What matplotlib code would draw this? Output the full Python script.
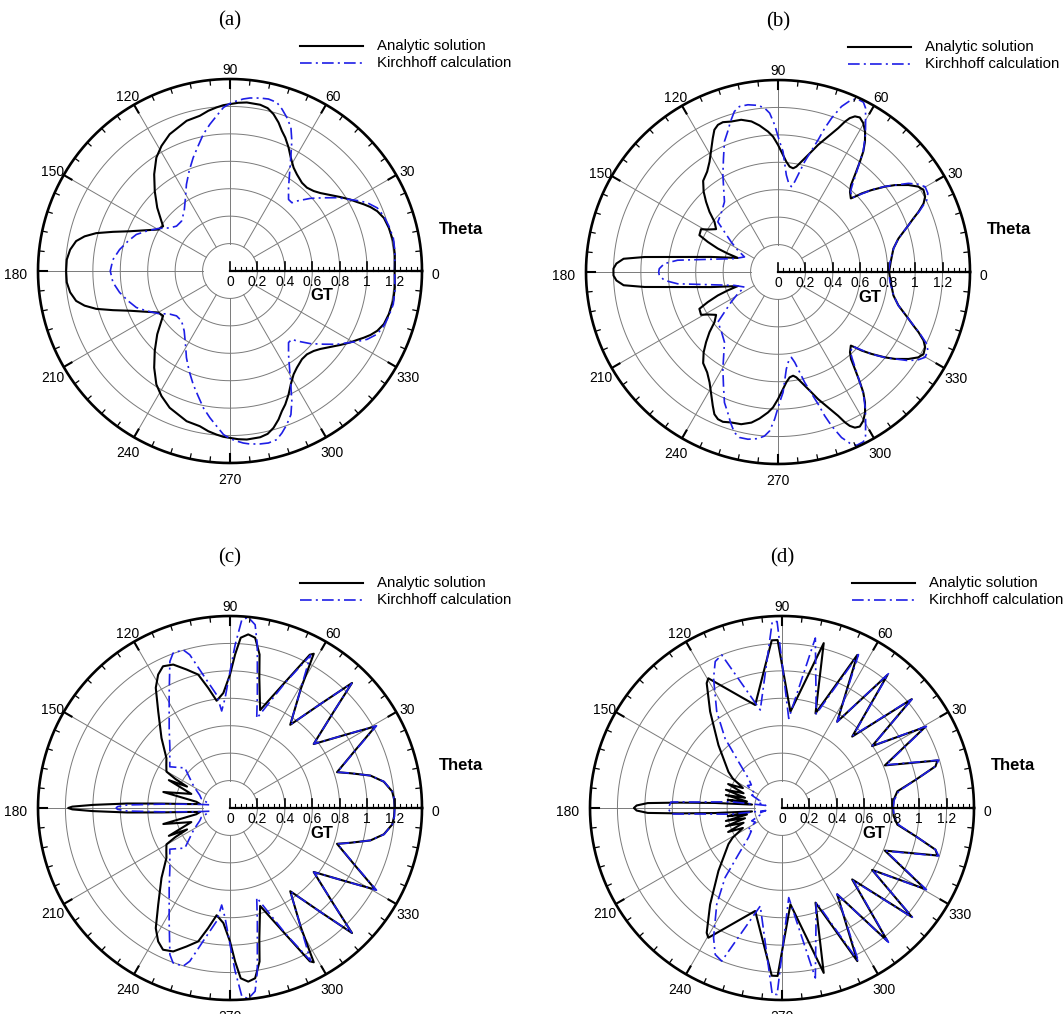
import numpy as np
import matplotlib
matplotlib.use("Agg")
import matplotlib.pyplot as plt

# ---------------------------------------------------------------
# GT versus scattering angle Theta (degrees), upper half 0..180.
# Patterns are symmetric about the 0-180 axis.
# ---------------------------------------------------------------

# (a)
theta_a_analytic = [0, 5.7, 10.3, 15.2, 19, 22.1, 24.5, 26.5, 28.5, 30.7, 33.8, 37.1, 40.8,
                    43.7, 47.3, 50.8, 55.3, 58.4, 61.8, 64.6, 67.5, 69.7, 71.9, 74.5, 77,
                    79.7, 84.3, 87.2, 90, 92.3, 94.7, 97.7, 101, 106.1, 113.8, 118.7, 123,
                    128.1, 133.3, 139, 144, 146.2, 150, 155, 158.4, 161.5, 164.2, 166.6,
                    169, 172.4, 176, 180]
gt_a_analytic = [1.20, 1.208, 1.21, 1.20, 1.187, 1.159, 1.125, 1.09, 1.054, 1.02, 0.969,
                 0.918, 0.87, 0.844, 0.827, 0.83, 0.857, 0.885, 0.938, 0.996, 1.053, 1.09,
                 1.139, 1.187, 1.219, 1.232, 1.235, 1.228, 1.217, 1.21, 1.197, 1.179,
                 1.153, 1.14, 1.09, 1.04, 0.986, 0.896, 0.80, 0.703, 0.618, 0.587, 0.605,
                 0.70, 0.787, 0.90, 1.014, 1.09, 1.143, 1.176, 1.193, 1.195]
theta_a_kirchhoff = [0, 6.8, 11.5, 15.8, 19.6, 23.2, 26.5, 29, 30.7, 34.4, 38, 42.1, 46.3,
                     47.8, 50.7, 54.9, 58.4, 61.8, 64.6, 67, 69.7, 72.2, 74.5, 77.4, 80.1,
                     83.4, 85.6, 88.3, 90, 92.3, 94.9, 97.8, 101, 104.3, 108, 112.2, 116.7,
                     121.3, 127.4, 134.2, 140, 144.4, 149.4, 154.5, 158.7, 163.7, 169,
                     174.5, 180]
gt_a_kirchhoff = [1.20, 1.211, 1.215, 1.204, 1.191, 1.168, 1.117, 1.06, 1.02, 0.946, 0.867,
                  0.79, 0.706, 0.672, 0.674, 0.742, 0.828, 0.938, 1.051, 1.137, 1.194,
                  1.24, 1.276, 1.285, 1.28, 1.27, 1.258, 1.237, 1.222, 1.193, 1.136, 1.08,
                  1.017, 0.941, 0.869, 0.788, 0.707, 0.625, 0.55, 0.507, 0.509, 0.54,
                  0.609, 0.675, 0.733, 0.775, 0.82, 0.858, 0.873]

# (b)
theta_b_analytic = [0, 5.1, 11.5, 15.5, 17.7, 19.7, 21.6, 23.2, 25.2, 27.1, 29.4, 31.3,
                    33.7, 36.6, 38.6, 41.2, 43.2, 44.4, 45.3, 48.1, 50, 51.6, 53.4, 54.7,
                    56.3, 58.2, 60.2, 62.1, 63.7, 65, 66, 67.3, 69.7, 72.5, 75, 78, 80.1,
                    81.7, 83.7, 85.7, 88, 90, 92.1, 94.1, 97.2, 100, 103.6, 107.3, 110.2,
                    112.2, 114.1, 116, 118.7, 121.8, 125.2, 129.4, 132.8, 135.7, 138.7,
                    141.7, 145.3, 148.8, 150.9, 154.9, 156.8, 158.7, 159.9, 160.7, 167.3,
                    171.5, 173.6, 175.1, 177, 178.8, 180]
gt_b_analytic = [0.81, 0.825, 0.859, 0.911, 0.96, 1.01, 1.062, 1.115, 1.173, 1.205, 1.218,
                 1.198, 1.143, 1.063, 0.998, 0.907, 0.837, 0.785, 0.755, 0.786, 0.828,
                 0.903, 1.002, 1.076, 1.143, 1.205, 1.251, 1.275, 1.266, 1.238, 1.20,
                 1.137, 1.053, 0.972, 0.896, 0.823, 0.78, 0.764, 0.773, 0.807, 0.866,
                 0.927, 0.988, 1.027, 1.077, 1.115, 1.142, 1.149, 1.164, 1.159, 1.136,
                 1.085, 1.015, 0.947, 0.896, 0.86, 0.798, 0.733, 0.665, 0.59, 0.549,
                 0.598, 0.642, 0.633, 0.557, 0.471, 0.39, 0.31, 0.50, 0.74, 0.98, 1.13,
                 1.18, 1.20, 1.20]
theta_b_kirchhoff = [0, 5, 11.5, 15.5, 19.7, 23.2, 25.8, 27.7, 30.1, 32, 34.2, 36.6, 38.6,
                     41.2, 43, 45, 48, 49.5, 51.3, 53.4, 55, 57.6, 59.8, 61.9, 63.3, 65.6,
                     67.2, 69, 70.8, 72, 73.1, 74.6, 76.4, 77.8, 79.5, 81.1, 83.1, 85.1,
                     87.6, 89.3, 91.3, 93, 94.7, 96.9, 100.2, 103.1, 105.2, 107.5, 109.7,
                     112.3, 115.6, 119.6, 123, 127.3, 134.2, 140.2, 143.1, 147.3, 151.6,
                     155.8, 162.9, 169.2, 173.3, 175.8, 178.4, 180]
gt_b_kirchhoff = [0.805, 0.82, 0.86, 0.91, 1.01, 1.12, 1.205, 1.234, 1.24, 1.207, 1.15,
                  1.063, 1.0, 0.91, 0.834, 0.766, 0.79, 0.835, 0.905, 1.0, 1.086, 1.19,
                  1.27, 1.355, 1.386, 1.388, 1.355, 1.293, 1.188, 1.103, 1.007, 0.916,
                  0.829, 0.749, 0.67, 0.63, 0.651, 0.71, 0.879, 0.951, 1.073, 1.16, 1.20,
                  1.224, 1.239, 1.239, 1.213, 1.151, 1.088, 1.029, 0.92, 0.814, 0.727,
                  0.644, 0.595, 0.571, 0.488, 0.406, 0.333, 0.268, 0.332, 0.497, 0.737,
                  0.831, 0.866, 0.87]

# (c)
theta_c_analytic = [0, 3, 5.8, 9.7, 13, 16.1, 18.5, 25, 29.3, 32.5, 37.4, 42.7, 45.7, 48.9,
                    54.1, 59.3, 61.5, 62.5, 66.2, 72.9, 77.3, 79.1, 81.6, 84, 86.4, 88.1,
                    90, 93.3, 97.1, 100.3, 103.4, 107.4, 111.6, 115.3, 118.3, 121.7, 126.6,
                    134.4, 141.9, 146, 150.2, 152, 153.5, 155.5, 160, 166.5, 169.5, 172.5,
                    174.5, 176.3, 177.5, 178.7, 179.5, 180]
gt_c_analytic = [1.20, 1.198, 1.189, 1.138, 1.051, 0.914, 0.823, 1.015, 1.217, 0.99, 0.768,
                 1.02, 1.274, 1.01, 0.749, 1.013, 1.28, 1.26, 1.01, 0.747, 0.973, 1.14,
                 1.255, 1.273, 1.244, 1.12, 0.973, 0.84, 0.788, 0.89, 1.0, 1.058, 1.125,
                 1.143, 1.105, 1.03, 0.878, 0.714, 0.589, 0.56, 0.534, 0.45, 0.35, 0.49,
                 0.30, 0.50, 0.25, 0.22, 0.30, 0.50, 0.75, 1.0, 1.15, 1.18]
theta_c_kirchhoff = [0, 3, 5.8, 9.7, 13, 16.1, 18.5, 25, 29.3, 32.5, 37.4, 42.7, 45.7, 48.9,
                     54.1, 59.3, 62.2, 66.2, 73.4, 76.4, 80.5, 82.2, 84.5, 86.4, 88.2, 90,
                     92.6, 94.9, 96.7, 101.4, 104.7, 106.5, 110.2, 112.3, 118.3, 127.4,
                     135, 140, 145.6, 138.4, 148.3, 153, 157, 162, 167, 171, 173.7, 176.8,
                     178.3, 179.3, 180]
gt_c_kirchhoff = [1.20, 1.20, 1.19, 1.14, 1.05, 0.915, 0.825, 1.02, 1.225, 0.99, 0.77, 1.02,
                  1.27, 1.01, 0.75, 1.01, 1.26, 1.0, 0.682, 0.848, 1.207, 1.349, 1.396,
                  1.376, 1.19, 0.995, 0.8, 0.71, 0.83, 0.99, 1.155, 1.203, 1.203, 1.155,
                  0.936, 0.73, 0.62, 0.573, 0.532, 0.44, 0.315, 0.27, 0.24, 0.22, 0.17,
                  0.15, 0.25, 0.50, 0.75, 0.82, 0.83]

# (d)
theta_d_analytic = [0, 4, 8.2, 12, 15.2, 17, 22.5, 29.5, 34.5, 40, 45.5, 51.6, 57.4, 63.8,
                    70.5, 75.8, 85, 91.5, 93.5, 104.6, 119.6, 121.1, 126.7, 135.3, 146, 149,
                    151, 153, 156, 159, 162, 164.5, 167, 169.5, 171.5, 173.5, 175.7, 177,
                    177.9, 179, 180]
gt_d_analytic = [0.81, 0.815, 0.85, 1.0, 1.16, 1.185, 0.812, 1.20, 0.797, 1.235, 0.73,
                 1.238, 0.747, 1.244, 0.732, 1.24, 0.705, 1.225, 1.225, 0.776, 1.088,
                 1.063, 0.877, 0.652, 0.471, 0.42, 0.36, 0.32, 0.43, 0.30, 0.43, 0.28,
                 0.42, 0.26, 0.40, 0.22, 0.49, 0.75, 0.98, 1.06, 1.08]
theta_d_kirchhoff = [0, 4, 8.2, 12, 15.2, 17, 22.5, 29.5, 34.5, 40, 45.5, 51.6, 57.4, 63.5,
                     70, 78.9, 85.7, 91.5, 93, 102.5, 111.5, 114.5, 117.8, 124.1, 129.3,
                     133.3, 138.7, 143, 147, 152, 157, 162, 167, 171, 173, 175.9, 176.9,
                     180]
gt_d_kirchhoff = [0.81, 0.82, 0.86, 1.0, 1.16, 1.195, 0.82, 1.21, 0.80, 1.245, 0.74, 1.25,
                  0.745, 1.25, 0.73, 1.263, 0.655, 1.36, 1.36, 0.732, 1.2, 1.174, 1.07,
                  0.849, 0.655, 0.46, 0.325, 0.28, 0.30, 0.22, 0.24, 0.17, 0.18, 0.12,
                  0.37, 0.61, 0.81, 0.83]

panel_titles = ["(a)", "(b)", "(c)", "(d)"]
angle_ticks = list(range(0, 360, 30))
gt_ticks = [0, 0.2, 0.4, 0.6, 0.8, 1, 1.2]
legend_labels = ["Analytic solution", "Kirchhoff calculation"]

# ---------------------------------------------------------------
W, H = 1063, 1014
DPI = 100
R_PX = 192            # radius of the outer circle in pixels
RMAX = 1.4
U = R_PX / RMAX       # pixels per GT unit

SANS = ["Liberation Sans", "DejaVu Sans"]
SERIF = ["Liberation Serif", "DejaVu Serif"]
BLUE = "#1e1ee6"
GRID = "#7a7a7a"
KIRCH_DASH = (0, (7, 2.5, 1.2, 2.5))

fig = plt.figure(figsize=(W / DPI, H / DPI), dpi=DPI)
fig.patch.set_facecolor("white")


def full_curve(theta_half, r_half):
    """Mirror an upper-half pattern about the 0-180 axis."""
    th = np.asarray(theta_half, float)
    r = np.asarray(r_half, float)
    th_full = np.concatenate([th, 360.0 - th[::-1]])
    r_full = np.concatenate([r, r[::-1]])
    return np.deg2rad(th_full), r_full


def draw_panel(cx, cy, title, th_an, gt_an, th_kc, gt_kc):
    rect = [(cx - R_PX) / W, 1 - (cy + R_PX) / H, 2 * R_PX / W, 2 * R_PX / H]
    ax = fig.add_axes(rect, projection="polar")
    ax.set_ylim(0, RMAX)
    ax.axis("off")

    # grid: circles every 0.2 and spokes every 30 degrees
    circ = np.linspace(0, 2 * np.pi, 721)
    for rr in [0.2, 0.4, 0.6, 0.8, 1.0, 1.2]:
        ax.plot(circ, np.full_like(circ, rr), color=GRID, lw=0.7, zorder=1)
    for a in angle_ticks:
        t = np.deg2rad(a)
        ax.plot([t, t], [0.2, RMAX], color=GRID, lw=0.7, zorder=1)

    # data
    t1, r1 = full_curve(th_an, gt_an)
    t2, r2 = full_curve(th_kc, gt_kc)
    ax.plot(t1, r1, color="black", lw=1.5, zorder=3, solid_joinstyle="round")
    ax.plot(t2, r2, color=BLUE, lw=1.2, ls=KIRCH_DASH, zorder=4)

    # outer frame with ticks
    ax.plot(circ, np.full_like(circ, RMAX), color="black", lw=1.9, zorder=5,
            clip_on=False)
    for a in range(0, 360, 6):
        t = np.deg2rad(a)
        if a % 30 == 0:
            ax.plot([t, t], [RMAX - 9 / U, RMAX], color="black", lw=1.5, zorder=5)
        else:
            ax.plot([t, t], [RMAX - 5 / U, RMAX], color="black", lw=0.9, zorder=5)

    # overlay axes for the GT axis, labels and legend
    deco = fig.add_axes(rect)
    deco.set_xlim(-RMAX, RMAX)
    deco.set_ylim(-RMAX, RMAX)
    deco.axis("off")
    deco.patch.set_alpha(0)

    deco.plot([0, RMAX], [0, 0], color="black", lw=1.6, zorder=6)
    for v in np.arange(0, RMAX + 1e-9, 0.04):
        major = abs(v / 0.2 - round(v / 0.2)) < 1e-6
        h = (9 if major else 4.5) / U
        deco.plot([v, v], [0, h], color="black", lw=1.2 if major else 0.8, zorder=6)
    for v in gt_ticks:
        deco.text(v, -11 / U, f"{v:g}", ha="center", va="center", fontsize=10,
                  family=SANS)
    deco.text(0.67, -25 / U, "GT", ha="center", va="center", fontsize=12,
              fontweight="bold", family=SANS)
    deco.text(231 / U, 42 / U, "Theta", ha="center", va="center", fontsize=12,
              fontweight="bold", family=SANS, clip_on=False)

    for a in angle_ticks:
        t = np.deg2rad(a)
        rr = 214 if a == 180 else 205
        x = rr * np.cos(t) / U
        y = (rr * np.sin(t) - 4) / U
        deco.text(x, y, str(a), ha="center", va="center", fontsize=10, family=SANS,
                  clip_on=False)

    # legend
    y1, y2 = 225 / U, 208 / U
    deco.plot([70 / U, 133 / U], [y1, y1], color="black", lw=1.5, clip_on=False)
    deco.plot([70 / U, 133 / U], [y2, y2], color=BLUE, lw=1.2, ls=KIRCH_DASH,
              clip_on=False)
    deco.text(147 / U, y1, legend_labels[0], ha="left", va="center", fontsize=10.8,
              family=SANS, clip_on=False)
    deco.text(147 / U, y2, legend_labels[1], ha="left", va="center", fontsize=10.8,
              family=SANS, clip_on=False)

    deco.text(0, 250 / U, title, ha="center", va="center", fontsize=15, family=SERIF,
              clip_on=False)


draw_panel(230, 271, panel_titles[0], theta_a_analytic, gt_a_analytic,
           theta_a_kirchhoff, gt_a_kirchhoff)
draw_panel(778, 272, panel_titles[1], theta_b_analytic, gt_b_analytic,
           theta_b_kirchhoff, gt_b_kirchhoff)
draw_panel(230, 808, panel_titles[2], theta_c_analytic, gt_c_analytic,
           theta_c_kirchhoff, gt_c_kirchhoff)
draw_panel(782, 808, panel_titles[3], theta_d_analytic, gt_d_analytic,
           theta_d_kirchhoff, gt_d_kirchhoff)

fig.savefig("out.png", dpi=DPI, facecolor="white")
